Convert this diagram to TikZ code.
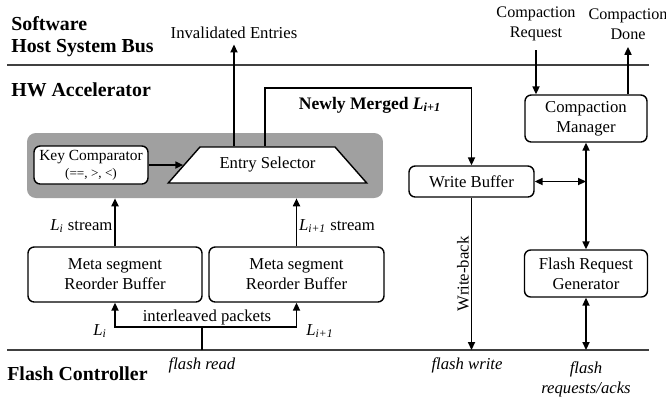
\documentclass[tikz,border=0pt]{standalone}
\usepackage{fontspec}
\setmainfont{Liberation Serif}
\usepackage{xcolor}
\usetikzlibrary{arrows.meta,shapes.geometric}
\definecolor{panelgray}{RGB}{160,160,160}

\begin{document}
\begin{tikzpicture}[x=0.02cm, y=-0.02cm,
    font=\fontsize{9.5}{11.5}\selectfont,
    box/.style={draw, rounded corners=3.5pt, line width=0.8pt, fill=white,
                align=center, inner sep=1pt},
    arr/.style={-{Triangle[length=4.5pt,width=4pt]}, line width=0.9pt},
    dblarr/.style={{Triangle[length=4.5pt,width=4pt]}-{Triangle[length=4.5pt,width=4pt]},
                   line width=0.9pt},
    head/.style={font=\fontsize{11.3}{12.5}\selectfont\bfseries, align=left,
                 anchor=west, inner sep=0pt},
    tag/.style={align=center, inner sep=1pt},
    flash/.style={font=\fontsize{9.5}{11.5}\selectfont\itshape, align=center,
                  inner sep=1pt}]
  \useasboundingbox (0,0) rectangle (666,400);

  \coordinate (topL) at (7,65);
  \coordinate (topR) at (649,65);
  \coordinate (botL) at (7,350);
  \coordinate (botR) at (649,350);
  \draw[line width=0.7pt, black!75] (topL) -- (topR);
  \draw[line width=0.7pt, black!75] (botL) -- (botR);

  \node[head] (sw) at (11,37) {Software\\Host System Bus};
  \node[head] (hw) at (11,90) {HW Accelerator};
  \node[head] (fc) at (7,374) {Flash Controller};

  \node[fill=panelgray, rounded corners=5pt, minimum width=7.12cm,
        minimum height=1.3cm] (panel) at (205,165.5) {};
  \node[box, minimum width=2.28cm, minimum height=0.76cm,
        font=\fontsize{8.8}{9.5}\selectfont] (kc) at (91,165)
        {Key Comparator\\{\fontsize{7.5}{8}\selectfont(==, >, <)}};
  \node[draw, trapezium, trapezium stretches=true, trapezium left angle=38.7,
        trapezium right angle=38.7, minimum width=3.98cm, minimum height=0.72cm,
        line width=0.8pt, fill=white, inner sep=1pt] (es) at (267.5,165) {Entry Selector};

  \node[box, minimum width=3.48cm, minimum height=1.1cm] (mrb1) at (115,274.5)
        {Meta segment\\Reorder Buffer};
  \node[box, minimum width=3.5cm, minimum height=1.1cm] (mrb2) at (296.5,274.5)
        {Meta segment\\Reorder Buffer};
  \node[box, minimum width=2.5cm, minimum height=0.62cm] (wb) at (471.5,181.5)
        {Write Buffer};
  \node[box, minimum width=2.44cm, minimum height=0.94cm] (cm) at (586,118.5)
        {Compaction\\Manager};
  \node[box, minimum width=2.46cm, minimum height=0.94cm] (frg) at (586,273.5)
        {Flash Request\\Generator};

  \node[tag] (inv) at (234,33) {Invalidated Entries};
  \node[tag, font=\fontsize{9.2}{11.5}\selectfont] (creq) at (536,24) {Compaction\\Request};
  \node[tag, font=\fontsize{9.2}{11.5}\selectfont] (cdone) at (628,24) {Compaction\\Done};
  \node[font=\fontsize{10}{11}\selectfont\bfseries] (nml) at (370,105)
        {Newly Merged \textit{L}\textsubscript{\textit{i+1}}};
  \node[tag] (ilp) at (207,317) {interleaved packets};
  \node[tag] (li) at (100,331) {\textit{L}\textsubscript{\textit{i}}};
  \node[tag] (lip) at (320,331) {\textit{L}\textsubscript{\textit{i+1}}};
  \node[flash] (fread) at (202,365) {flash read};
  \node[flash] (fwrite) at (467,365) {flash write};
  \node[flash] (freq) at (586,379) {flash\\requests/acks};

  \coordinate (nm) at (265,88);
  \coordinate (split) at (202,327);

  \draw[arr] (kc.east) -- (kc.east -| es.west);
  \draw[arr] (es.north -| inv) -- ([yshift=-2pt]inv.south);
  \draw[arr] (nm |- es.north) -- (nm) -| (wb.north);
  \draw[arr] (mrb1.north) -- node[pos=0.42, left, tag]
        {\textit{L}\textsubscript{\textit{i}} stream} (mrb1.north |- panel.south);
  \draw[arr] (mrb2.north) -- node[pos=0.42, right, tag]
        {\textit{L}\textsubscript{\textit{i+1}} stream} (mrb2.north |- panel.south);
  \draw[line width=0.9pt] (split |- botL) -- (split);
  \draw[arr] (split) -| (mrb1.south);
  \draw[arr] (split) -| (mrb2.south);
  \draw[arr] (wb.south) -- node[midway, anchor=south, rotate=90, tag]
        {Write-back} (wb.south |- botL);
  \draw[dblarr] (wb.east) -- (wb.east -| cm.south);
  \draw[dblarr] (cm.south) -- (frg.north);
  \draw[dblarr] (frg.south) -- (frg.south |- botL);
  \draw[arr] ([yshift=-4pt]creq.south) -- (creq.south |- cm.north);
  \draw[arr] (cm.north -| cdone) -- ([yshift=-3pt]cdone.south);
\end{tikzpicture}
\end{document}
